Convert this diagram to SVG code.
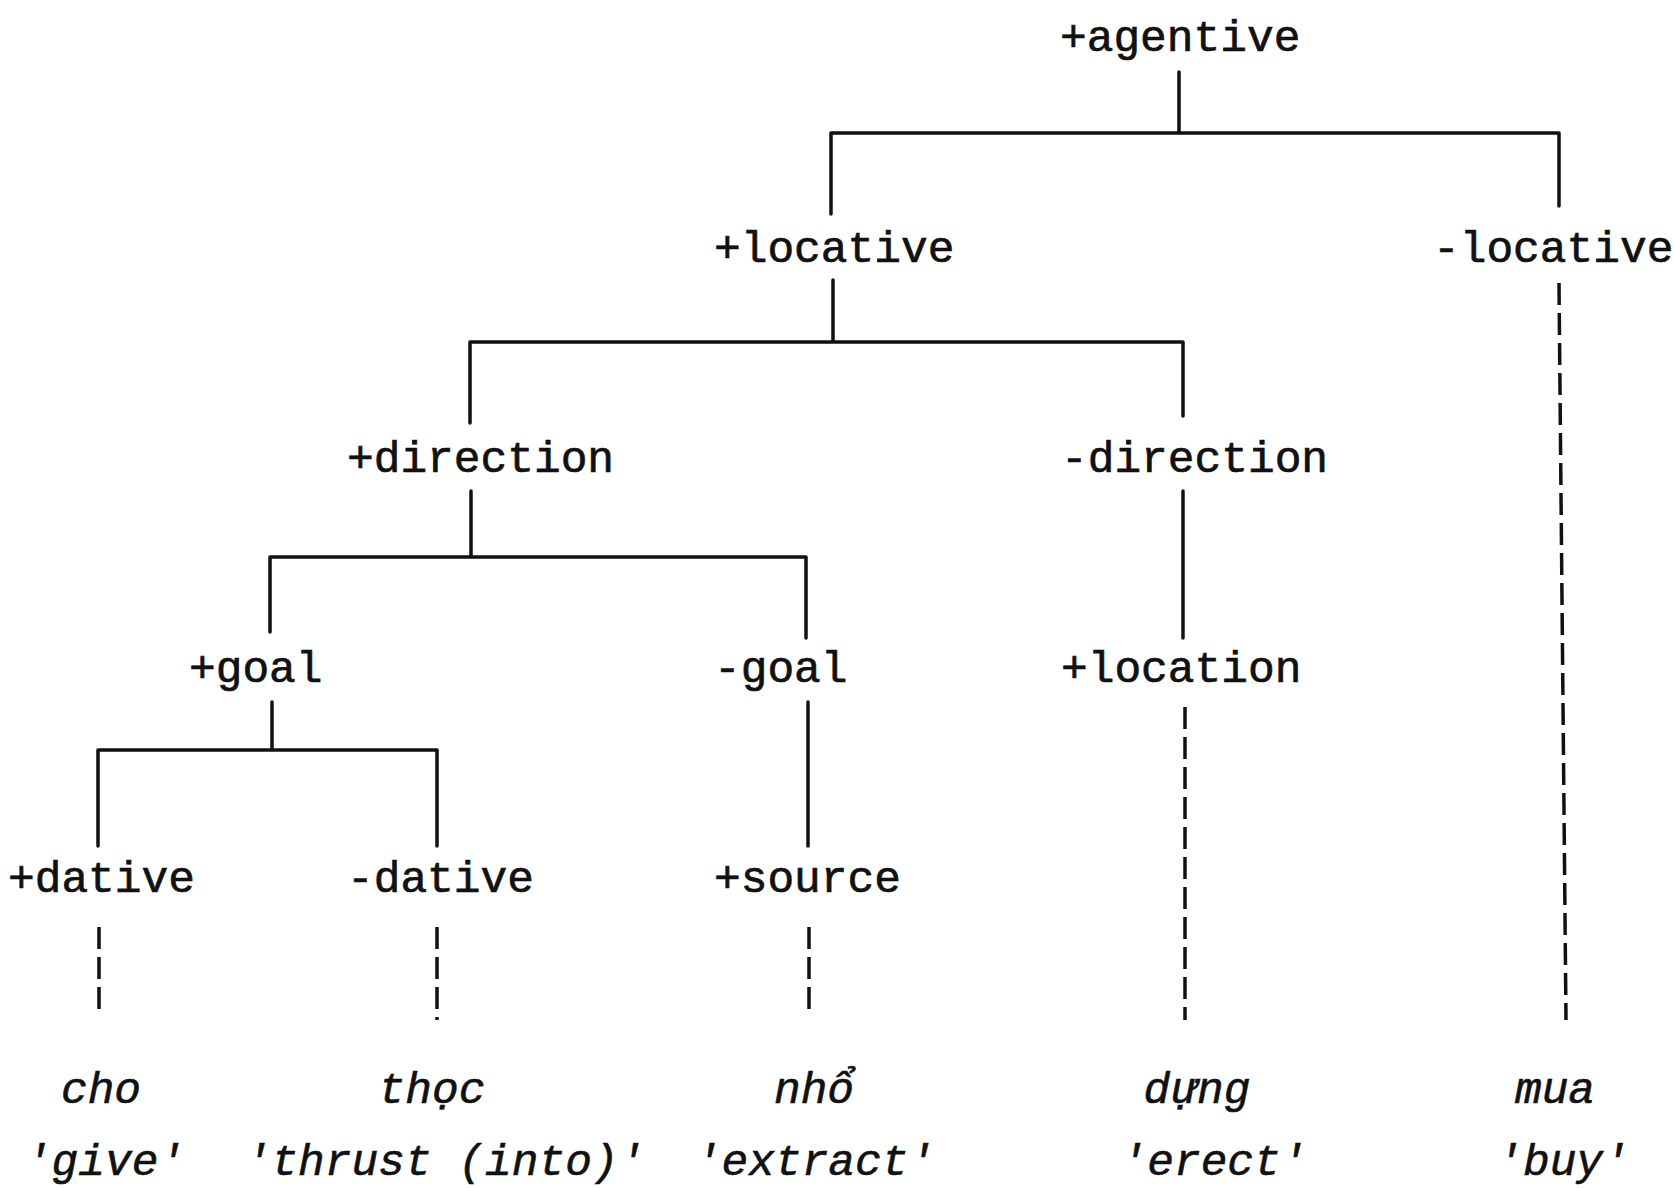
<svg xmlns="http://www.w3.org/2000/svg" width="1674" height="1188" viewBox="0 0 1674 1188">
<style>
.lbl{font-family:"Liberation Mono","DejaVu Sans Mono",monospace;font-size:44.5px;fill:#111;stroke:#111;stroke-width:0.7px}
.word{font-family:"Liberation Mono","DejaVu Sans Mono",monospace;font-size:44.5px;font-style:italic;fill:#111;stroke:#111;stroke-width:0.6px;text-anchor:middle}
.solid{stroke:#111;stroke-width:3.5;fill:none;stroke-linecap:round;stroke-linejoin:round}
.dash{stroke:#111;stroke-width:3.5;fill:none;stroke-dasharray:22 8}
</style>
<rect width="1674" height="1188" fill="#fff"/>
<g id="connectors">
  <path class="solid" d="M1179 72V133M831 214V133H1559V206"/>
  <path class="solid" d="M833 280V342M470 423V342H1183V416"/>
  <path class="dash" d="M1559 283L1566 1020"/>
  <path class="solid" d="M471 491V557M270 632V557H806V638"/>
  <path class="solid" d="M1183 491V638"/>
  <path class="solid" d="M272 702V750M98 846V750H437V846"/>
  <path class="solid" d="M808 702V846"/>
  <path class="dash" d="M1185 707V1020"/>
  <path class="dash" d="M99 927V1016"/>
  <path class="dash" d="M437 927V1020"/>
  <path class="dash" d="M809 927V1016"/>
</g>
<g id="n-agentive"><text class="lbl" x="1060" y="51">+agentive</text></g>
<g id="n-plus-locative"><text class="lbl" x="714" y="262">+locative</text></g>
<g id="n-minus-locative"><text class="lbl" x="1433" y="262">-locative</text></g>
<g id="n-plus-direction"><text class="lbl" x="347" y="472">+direction</text></g>
<g id="n-minus-direction"><text class="lbl" x="1061" y="472">-direction</text></g>
<g id="n-plus-goal"><text class="lbl" x="189" y="682">+goal</text></g>
<g id="n-minus-goal"><text class="lbl" x="714" y="682">-goal</text></g>
<g id="n-plus-location"><text class="lbl" x="1061" y="682">+location</text></g>
<g id="n-plus-dative"><text class="lbl" x="8" y="892">+dative</text></g>
<g id="n-minus-dative"><text class="lbl" x="347" y="892">-dative</text></g>
<g id="n-plus-source"><text class="lbl" x="714" y="892">+source</text></g>
<g id="w-cho"><text class="word" x="101" y="1103">cho</text><text class="word" x="105" y="1175">'give'</text></g>
<g id="w-thoc"><text class="word" x="432" y="1103">thọc</text><text class="word" x="445" y="1175">'thrust (into)'</text></g>
<g id="w-nho"><text class="word" x="814" y="1103">nhổ</text><text class="word" x="815" y="1175">'extract'</text></g>
<g id="w-dung"><text class="word" x="1197" y="1103">dựng</text><text class="word" x="1214" y="1175">'erect'</text></g>
<g id="w-mua"><text class="word" x="1555" y="1103">mua</text><text class="word" x="1563" y="1175">'buy'</text></g>
</svg>
